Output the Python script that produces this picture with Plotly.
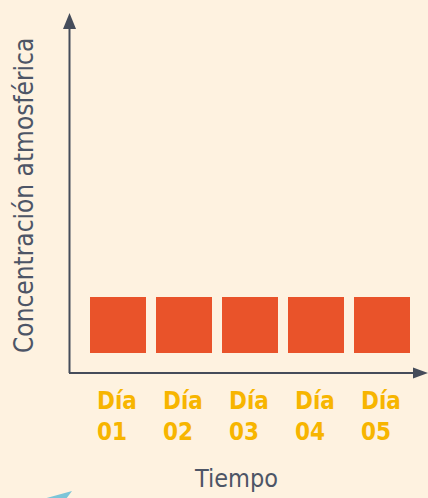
import plotly.graph_objects as go

days = ["01", "02", "03", "04", "05"]
day_word = "Día"
concentration = [1, 1, 1, 1, 1]
x_title = "Tiempo"
y_title = "Concentración atmosférica"

W, H = 428, 498
L, T, B = 70, 0, 125
PW, PH = W - L, H - T - B

BG = "#FEF2E0"
BAR = "#E9532A"
LAB = "#F7B500"
AX = "#454C5A"
TXT = "#4D5566"
FONT = "DejaVu Sans Condensed, Liberation Sans Narrow, sans-serif"

def px(x):
    return (x - L) / PW

def py(y):
    return (H - B - y) / PH

xs = list(range(len(days)))
fig = go.Figure(go.Bar(x=xs, y=concentration, width=56 / 66, marker=dict(color=BAR, line=dict(width=0))))

shapes = [
    dict(type="line", xref="paper", yref="paper", x0=px(69.5), y0=py(373), x1=px(69.5), y1=py(28),
         line=dict(color=AX, width=2)),
    dict(type="path", xref="paper", yref="paper",
         path=f"M {px(63)} {py(29)} L {px(76)} {py(29)} L {px(69.5)} {py(13)} Z",
         fillcolor=AX, line=dict(width=0)),
    dict(type="line", xref="paper", yref="paper", x0=px(69), y0=py(373), x1=px(414), y1=py(373),
         line=dict(color=AX, width=2)),
    dict(type="path", xref="paper", yref="paper",
         path=f"M {px(413)} {py(367.5)} L {px(413)} {py(378.5)} L {px(428)} {py(373)} Z",
         fillcolor=AX, line=dict(width=0)),
    dict(type="path", xref="paper", yref="paper",
         path=f"M {px(43)} {py(499)} L {px(72)} {py(491)} L {px(66)} {py(499)} Z",
         fillcolor="#7CC5D8", line=dict(width=0)),
]

annotations = []
for i, d in enumerate(days):
    annotations.append(dict(x=i, xref="x", y=py(385), yref="paper", xanchor="left", yanchor="top",
                            xshift=-23, align="left", showarrow=False,
                            text=f"<b>{day_word}<br>{d}</b>",
                            font=dict(family=FONT, size=24, color=LAB)))
annotations.append(dict(x=px(236), y=py(462), xref="paper", yref="paper", xanchor="center", yanchor="top",
                        showarrow=False, text=x_title, font=dict(family=FONT, size=25, color=TXT)))
annotations.append(dict(x=px(24), y=py(196), xref="paper", yref="paper", xanchor="center", yanchor="middle",
                        textangle=-90, showarrow=False, text=y_title,
                        font=dict(family=FONT, size=26, color=TXT)))

fig.update_layout(
    width=W, height=H,
    margin=dict(l=L, r=0, t=T, b=B, pad=0),
    paper_bgcolor=BG, plot_bgcolor=BG,
    showlegend=False,
    xaxis=dict(range=[-48 / 66, -48 / 66 + PW / 66], showticklabels=False, showgrid=False,
               zeroline=False, showline=False, fixedrange=True),
    yaxis=dict(range=[-20 / 56, 353 / 56], showticklabels=False, showgrid=False,
               zeroline=False, showline=False, fixedrange=True),
    shapes=shapes, annotations=annotations,
)

fig.write_html("out.html", config={"displayModeBar": False},
               post_script="document.body.style.margin='0';document.body.style.overflow='hidden';"
                           "document.body.style.background='" + BG + "';")
